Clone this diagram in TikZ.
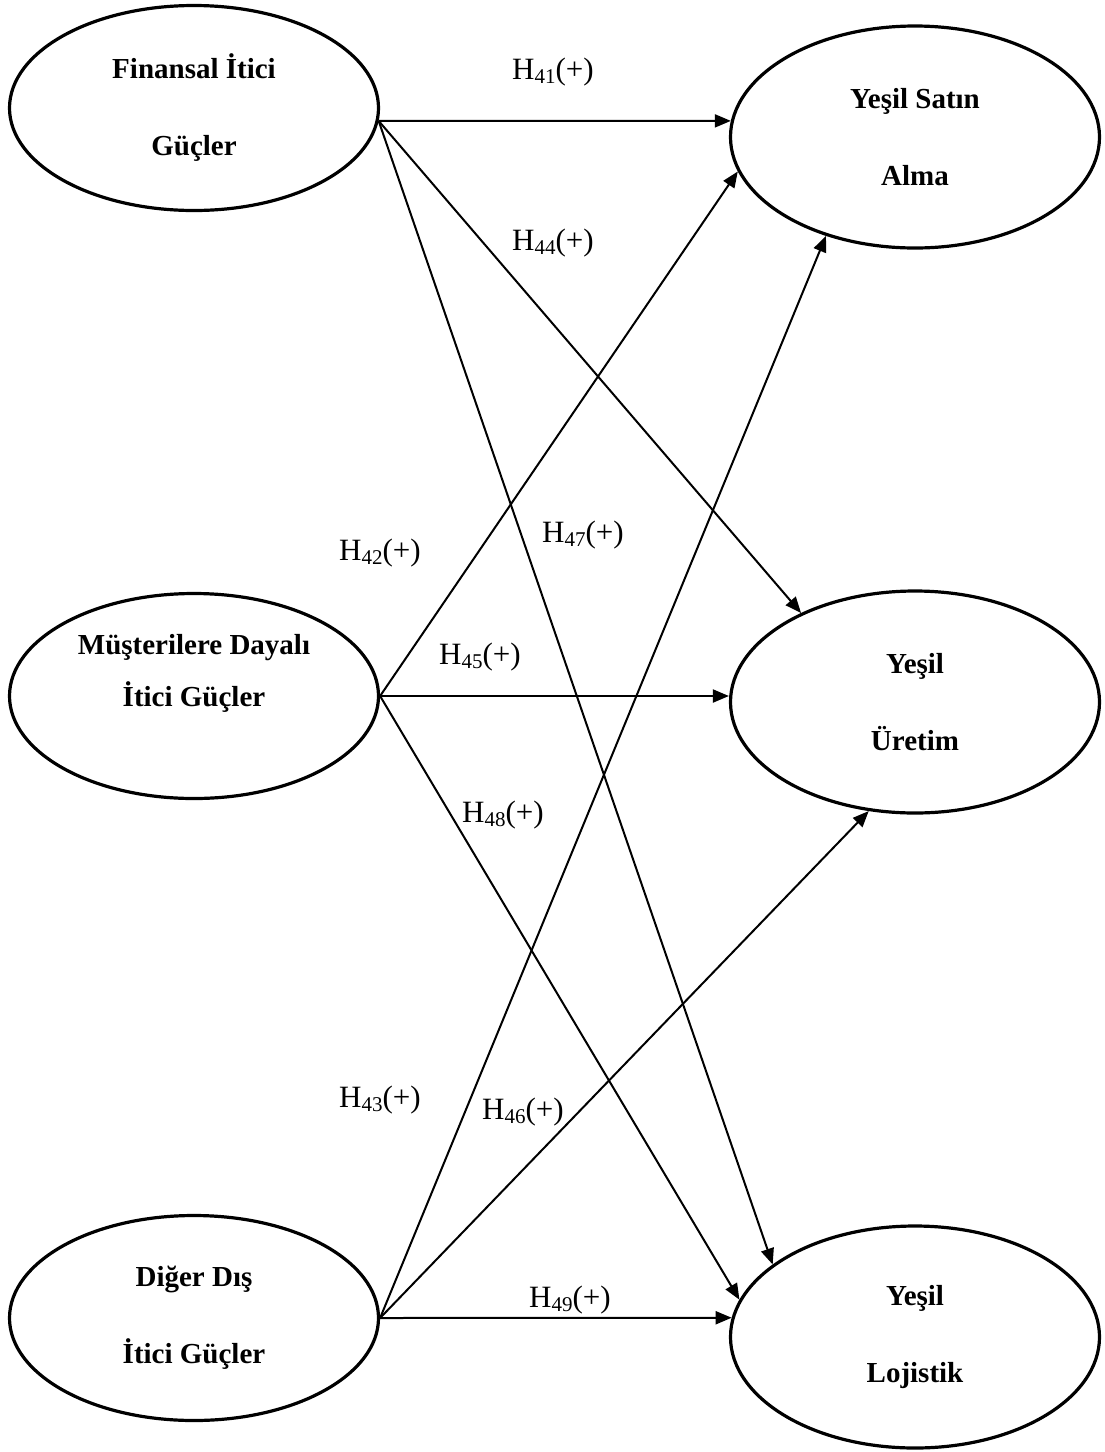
\documentclass[tikz,border=0pt]{standalone}
\usepackage{fontspec}
\setmainfont{Liberation Serif}
\usetikzlibrary{arrows.meta,shapes}

\newcommand{\hyp}[1]{H\raisebox{-0.12em}{\fontsize{21}{21}\selectfont #1}(+)}

\begin{document}
\begin{tikzpicture}[x=1pt,y=-1pt]
    \tikzset{construct/.style = {shape=ellipse,draw,line width=3.2pt,inner sep=0pt,minimum width=369pt,align=center,font=\fontsize{29}{77}\selectfont\bfseries}}
    \tikzset{driver/.style = {construct,minimum height=205pt}}
    \tikzset{outcome/.style = {construct,minimum height=222pt}}
    \tikzset{edge/.style = {line width=2pt,-{Triangle[length=16pt,width=13pt]}}}
    \tikzset{hlabel/.style = {font=\fontsize{31}{36}\selectfont}}

    \useasboundingbox (0,0) rectangle (1104,1452);

    % drivers
    \node[driver] (fin) at (194,108) {Finansal İtici\\Güçler};
    \node[driver,font=\fontsize{29}{52}\selectfont\bfseries] (mus) at (194,696) {Müşterilere Dayalı\\İtici Güçler\\\mbox{}};
    \node[driver] (dig) at (194,1318) {Diğer Dış\\İtici Güçler};

    % practices
    \node[outcome] (sa) at (915,137) {Yeşil Satın\\Alma};
    \node[outcome] (ur) at (915,702) {Yeşil\\Üretim};
    \node[outcome] (lo) at (915,1337) {Yeşil\\Lojistik};

    % edges
    \foreach \y in {sa.175,ur.142,lo.153} {\draw[edge] (fin.-4) to (\y);}
    \foreach \y in {sa.191,mus.east -| ur.west,lo.168} {\draw[edge] (mus.east) to (\y);}
    \foreach \y in {sa.228,ur.247,lo.174} {\draw[edge] (dig.east) to (\y);}

    % hypotheses
    \foreach \n/\x/\y in {41/553/72,44/553/243,47/583/535,42/380/553,45/480/657,48/503/815,43/380/1100,46/523/1112,49/570/1300}
    {
      \node[hlabel] (h\n) at (\x,\y) {\hyp{\n}};
    }

\end{tikzpicture}
\end{document}
